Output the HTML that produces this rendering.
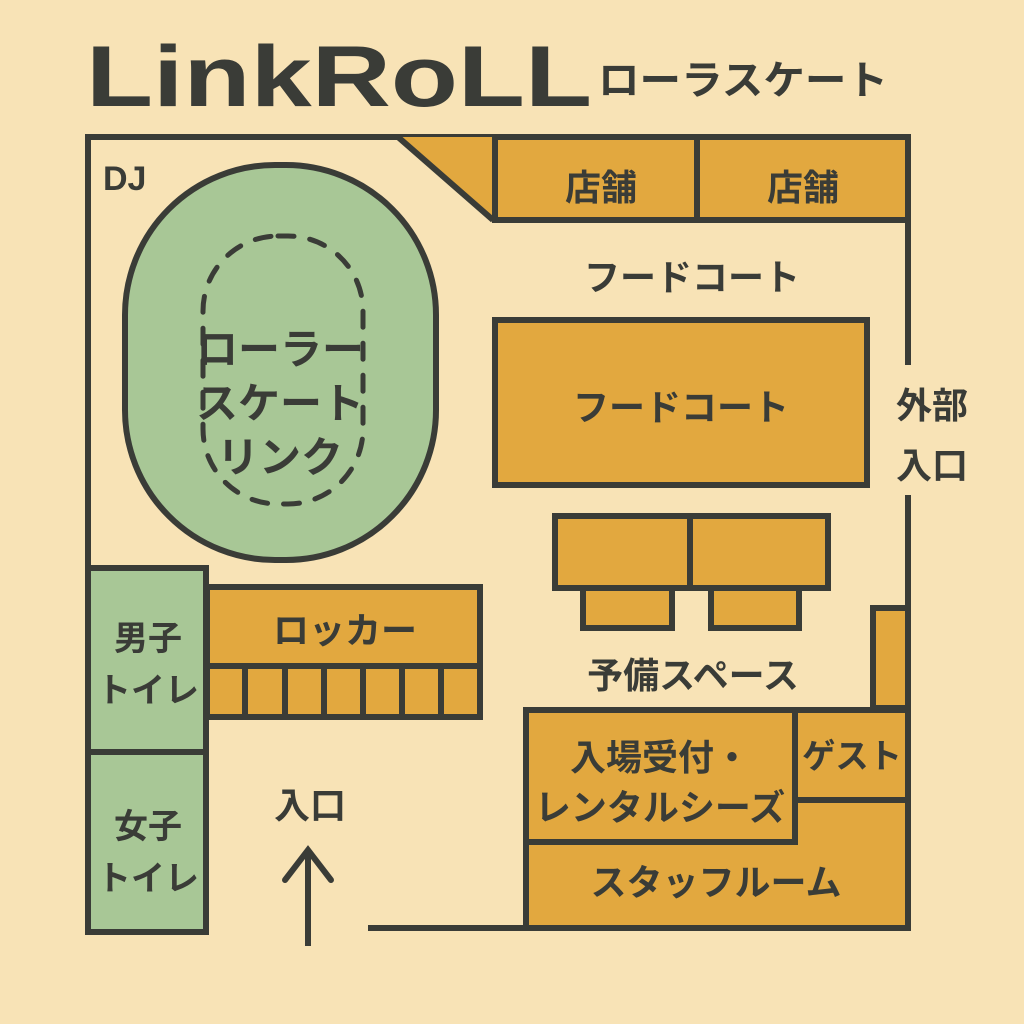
<!DOCTYPE html>
<html><head><meta charset="utf-8"><style>
html,body{margin:0;padding:0;background:#f8e3b6;}
svg{display:block}
text{font-family:"Liberation Sans","Noto Sans CJK JP",sans-serif;fill:#3a3c37;font-weight:bold;}
</style></head><body>
<svg width="1024" height="1024" viewBox="0 0 1024 1024" xmlns="http://www.w3.org/2000/svg">
<rect width="1024" height="1024" fill="#f8e3b6"/>
<text x="86" y="106" font-size="86" font-weight="bold" font-family="Liberation Sans, sans-serif" textLength="506" lengthAdjust="spacingAndGlyphs">LinkRoLL</text>
<text x="598" y="94" font-size="40" textLength="290" lengthAdjust="spacingAndGlyphs">ローラスケート</text>
<g stroke="#3a3c37" stroke-width="6" stroke-linejoin="miter">
<polyline points="88,570 88,137 908,137 908,365" fill="none"/>
<line x1="908" y1="495" x2="908" y2="930"/>
<line x1="368" y1="928" x2="908" y2="928"/>
<polygon points="398,137 495,137 495,220" fill="#e2a83f" stroke="none"/>
<line x1="398" y1="137" x2="493" y2="220"/>
<rect x="495" y="137" width="202" height="83" fill="#e2a83f"/>
<rect x="697" y="137" width="211" height="83" fill="#e2a83f"/>
<rect x="125" y="165" width="311" height="395" rx="150" ry="150" fill="#a8c796"/>
<rect x="203" y="236" width="160" height="268" rx="75" ry="75" fill="none" stroke-width="5" stroke-dasharray="16 16" stroke-linecap="round"/>
<rect x="495" y="320" width="372" height="165" fill="#e2a83f"/>
<rect x="555" y="516" width="135" height="72" fill="#e2a83f"/>
<rect x="690" y="516" width="138" height="72" fill="#e2a83f"/>
<rect x="583" y="588" width="89" height="40" fill="#e2a83f"/>
<rect x="711" y="588" width="88" height="40" fill="#e2a83f"/>
<rect x="88" y="568" width="118" height="184" fill="#a8c796"/>
<rect x="88" y="752" width="118" height="180" fill="#a8c796"/>
<rect x="207" y="587" width="273" height="130" fill="#e2a83f"/>
<line x1="207" y1="666" x2="480" y2="666"/>
<line x1="245" y1="666" x2="245" y2="717"/>
<line x1="285" y1="666" x2="285" y2="717"/>
<line x1="324" y1="666" x2="324" y2="717"/>
<line x1="363" y1="666" x2="363" y2="717"/>
<line x1="402" y1="666" x2="402" y2="717"/>
<line x1="441" y1="666" x2="441" y2="717"/>
<rect x="873" y="608" width="35" height="100" fill="#e2a83f"/>
<polygon points="526,842 526,928 908,928 908,800 795,800 795,842" fill="#e2a83f"/>
<rect x="795" y="710" width="113" height="90" fill="#e2a83f"/>
<rect x="526" y="710" width="269" height="132" fill="#e2a83f"/>
<line x1="308" y1="850" x2="308" y2="946"/>
<polyline points="285,880 308,850 331,880" fill="none" stroke-linecap="round"/>
</g>
<text x="103" y="190" font-size="34" font-weight="bold" font-family="Liberation Sans, sans-serif">DJ</text>
<g font-size="42" text-anchor="middle">
<text x="280" y="364">ローラー</text>
<text x="280" y="418">スケート</text>
<text x="280" y="472">リンク</text>
</g>
<g font-size="36" text-anchor="middle">
<text x="601" y="200">店舗</text>
<text x="803" y="200">店舗</text>
<text x="692" y="290">フードコート</text>
<text x="681" y="420">フードコート</text>
<text x="932" y="418">外部</text>
<text x="932" y="478">入口</text>
<text x="345" y="643">ロッカー</text>
<text x="310" y="818">入口</text>
<text x="693" y="688">予備スペース</text>
<text x="660" y="770">入場受付・</text>
<text x="660" y="820">レンタルシーズ</text>
<text x="716" y="895">スタッフルーム</text>
</g>
<g font-size="34" text-anchor="middle">
<text x="148" y="650">男子</text>
<text x="148" y="702">トイレ</text>
<text x="148" y="838">女子</text>
<text x="148" y="890">トイレ</text>
<text x="852" y="768" textLength="100" lengthAdjust="spacingAndGlyphs">ゲスト</text>
</g>
</svg>
</body></html>
